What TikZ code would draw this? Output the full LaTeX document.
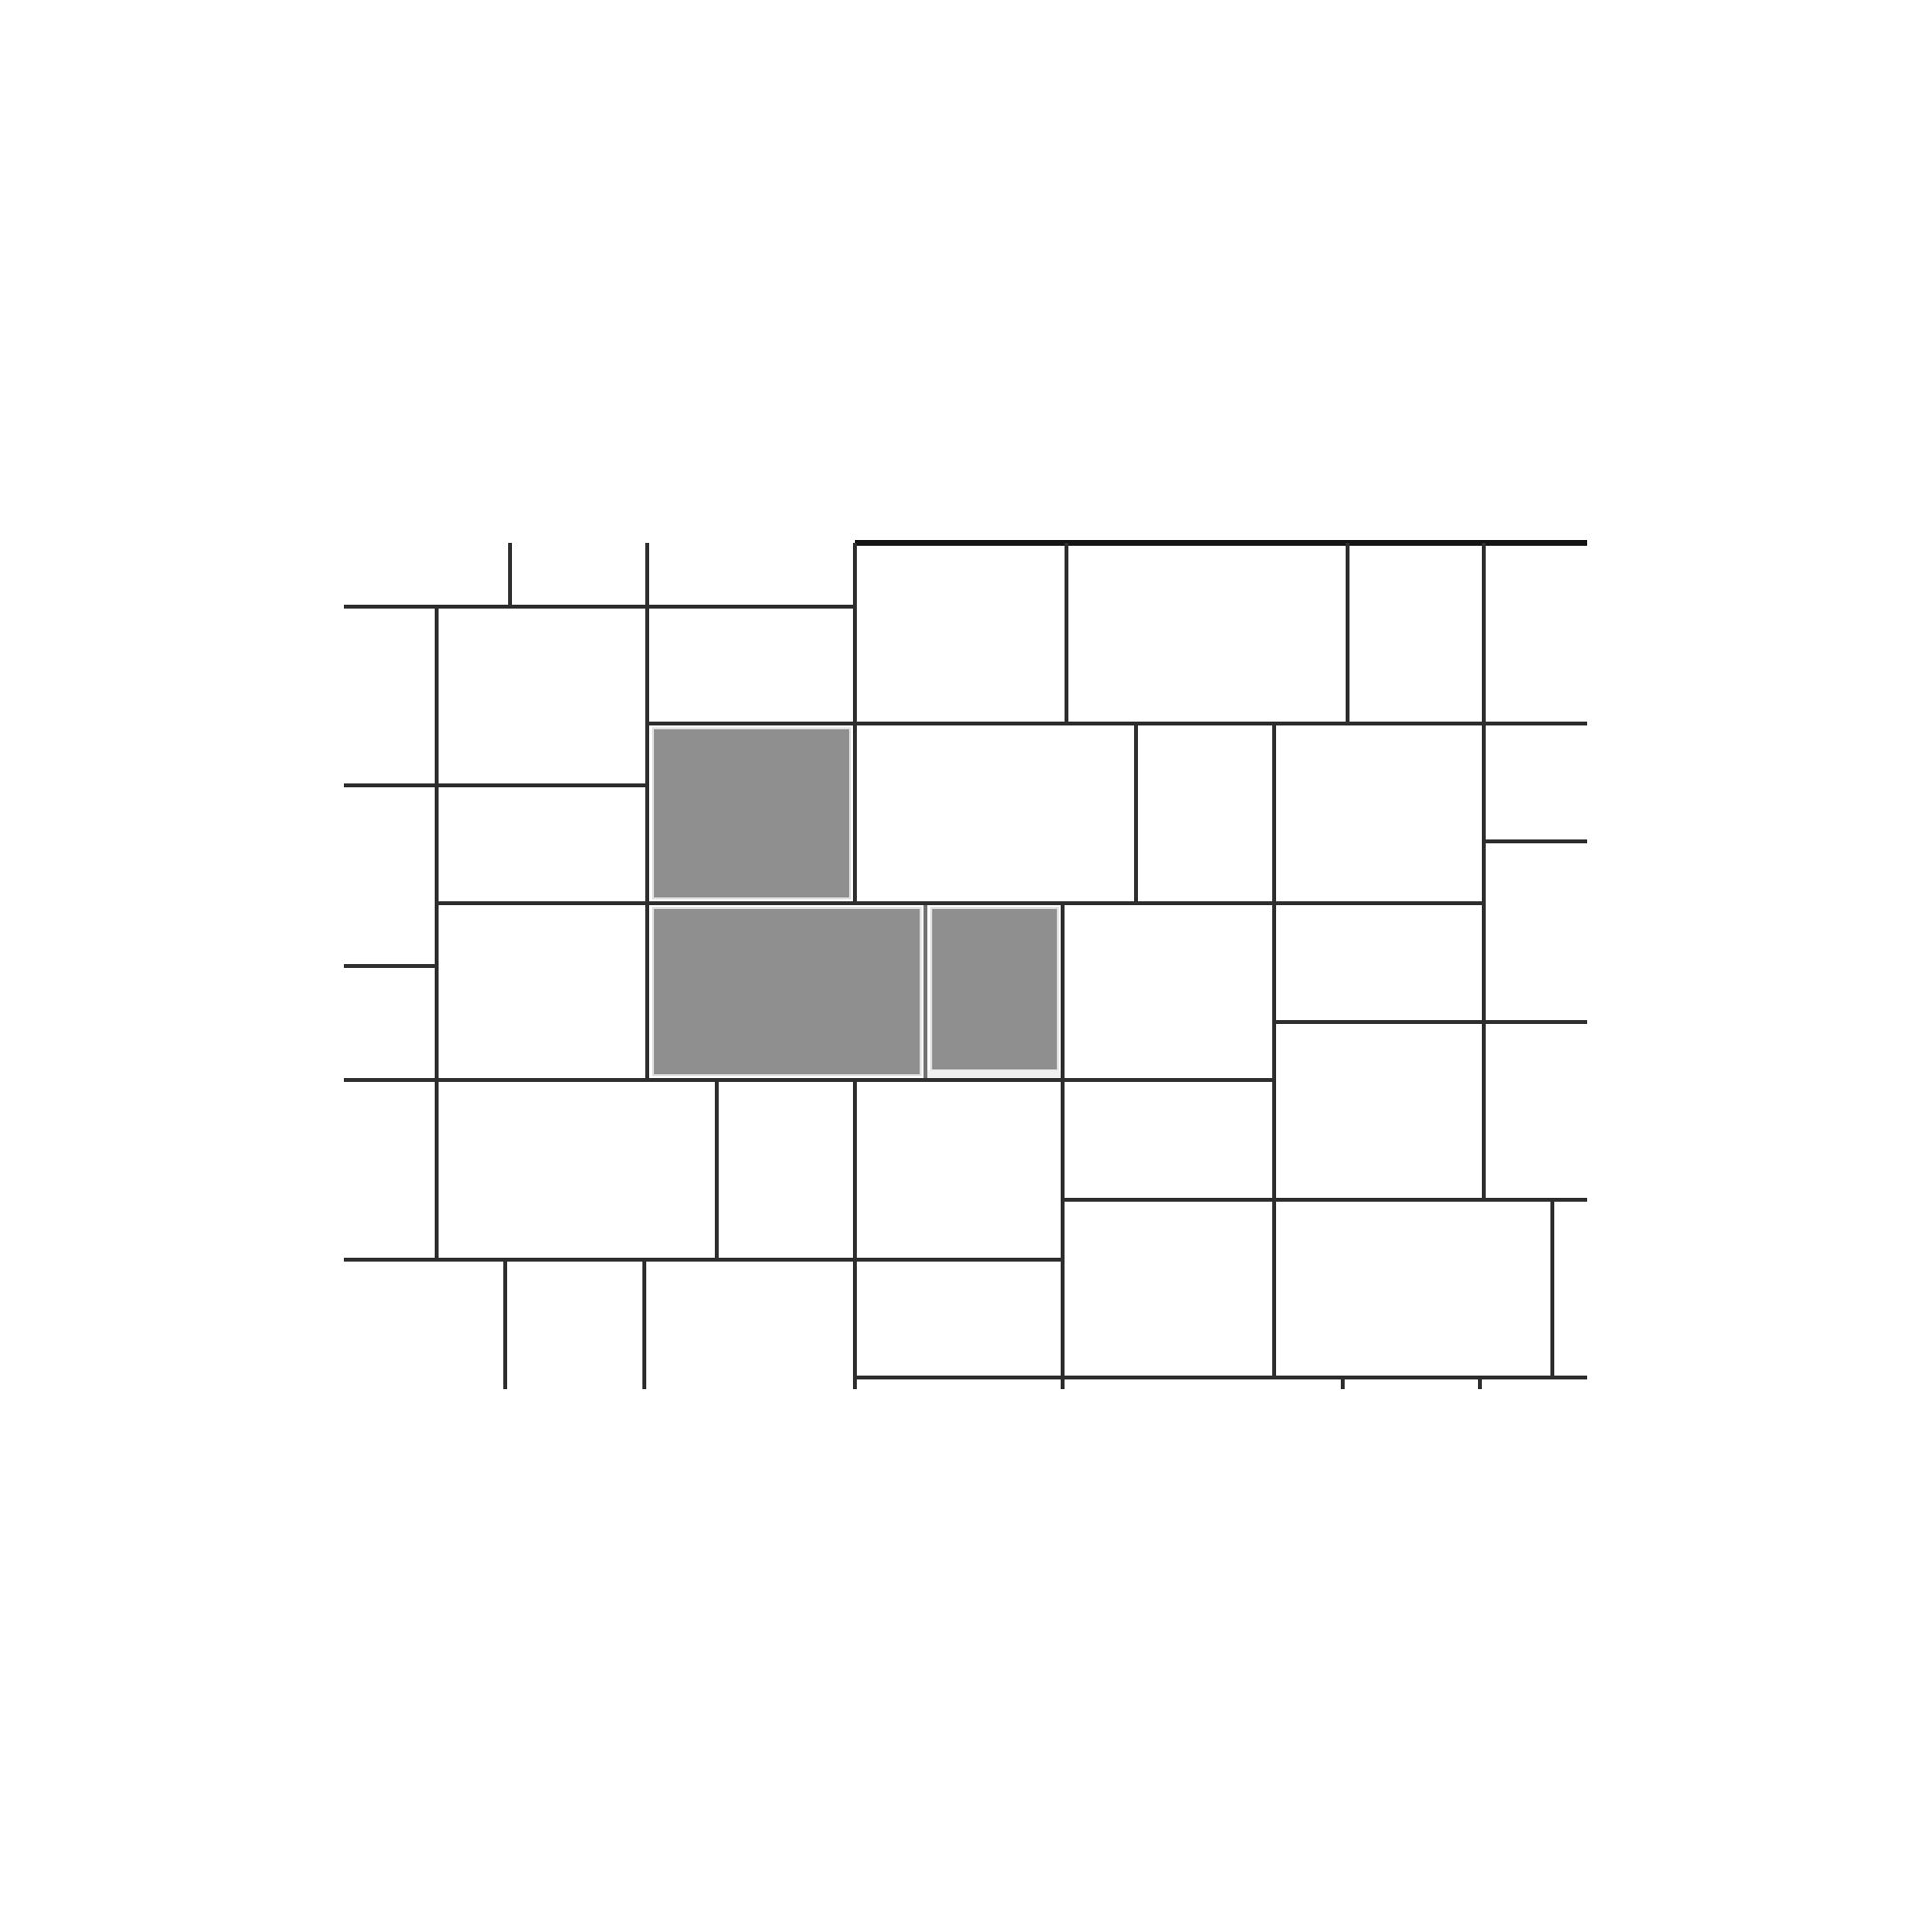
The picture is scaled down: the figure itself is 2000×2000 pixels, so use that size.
\documentclass[tikz,border=0pt]{standalone}
\begin{document}
\begin{tikzpicture}[x=0.01cm, y=-0.01cm]
    \tikzstyle{joint} = [draw=black!82, line width=1.2pt]
    \tikzstyle{topedge} = [draw=black!92, line width=1.5pt]
    \tikzstyle{tile} = [fill=black!44, draw=black!12, line width=0.8pt]
    \useasboundingbox (0,0) rectangle (2000,2000);

    % Shaded tiles
    \draw [tile] (676,754) rectangle (880,930);
    \draw [tile] (676,940) rectangle (953,1113);
    \draw [tile] (964,940) rectangle (1095,1108);
    \fill [black!6] (960,1108) rectangle (1098,1116);
    \draw [black!55, line width=1.2pt] (958,935) -- (958,1118);

    % Top edge
    \draw [topedge] (885,562) -- (1643,562);

    % Horizontal joints
    \draw [joint] (356,628) -- (885,628);
    \draw [joint] (670,749) -- (1643,749);
    \draw [joint] (356,813) -- (670,813);
    \draw [joint] (1536,871) -- (1643,871);
    \draw [joint] (452,935) -- (1536,935);
    \draw [joint] (356,1000) -- (452,1000);
    \draw [joint] (1319,1058) -- (1643,1058);
    \draw [joint] (356,1118) -- (1319,1118);
    \draw [joint] (1100,1242) -- (1643,1242);
    \draw [joint] (356,1304) -- (1100,1304);
    \draw [joint] (885,1426) -- (1643,1426);

    % Vertical joints, top rows
    \draw [joint] (528,562) -- (528,628);
    \draw [joint] (670,562) -- (670,1118);
    \draw [joint] (452,628) -- (452,1304);
    \draw [joint] (885,562) -- (885,935);
    \foreach \x in {1104,1395}
        \draw [joint] (\x,562) -- (\x,749);
    \draw [joint] (1536,562) -- (1536,1242);
    \draw [joint] (1176,749) -- (1176,935);
    \draw [joint] (1319,749) -- (1319,1426);

    % Vertical joints, bottom rows
    \draw [joint] (1100,935) -- (1100,1438);
    \draw [joint] (885,1118) -- (885,1438);
    \draw [joint] (742,1118) -- (742,1304);
    \foreach \x in {523,667}
        \draw [joint] (\x,1304) -- (\x,1438);
    \draw [joint] (1607,1242) -- (1607,1426);
    \foreach \x in {1390,1532}
        \draw [joint] (\x,1426) -- (\x,1438);
\end{tikzpicture}
\end{document}
